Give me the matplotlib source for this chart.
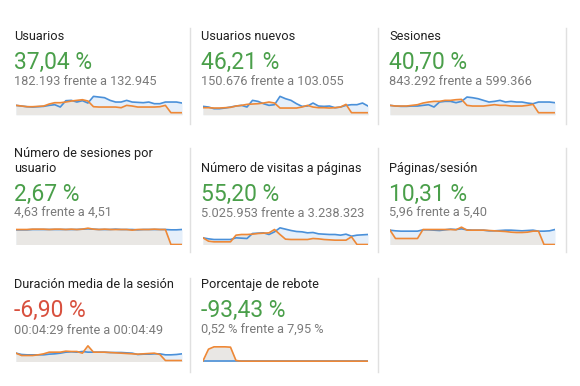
import matplotlib.pyplot as plt
import numpy as np

plt.rcParams['font.family'] = ['Roboto', 'DejaVu Sans']

# Card texts
titles = ['Usuarios', 'Usuarios nuevos', 'Sesiones',
          'Número de sesiones por\nusuario', 'Número de visitas a páginas', 'Páginas/sesión',
          'Duración media de la sesión', 'Porcentaje de rebote']
changes = ['37,04 %', '46,21 %', '40,70 %', '2,67 %', '55,20 %', '10,31 %', '-6,90 %', '-93,43 %']
good = [True, True, True, True, True, True, False, True]
compare = ['182.193 frente a 132.945', '150.676 frente a 103.055', '843.292 frente a 599.366',
           '4,63 frente a 4,51', '5.025.953 frente a 3.238.323', '5,96 frente a 5,40',
           '00:04:29 frente a 00:04:49', '0,52 % frente a 7,95 %']

# Sparkline heights (relative), current period / previous period
usuarios_cur = [28, 26, 24, 23, 24, 25, 28, 30, 23, 42, 43, 38, 42, 35, 55, 53, 51, 43, 38, 38,
                43, 38, 37, 36, 38, 33, 33, 38, 38, 38, 35]
usuarios_prev = [28, 26, 24, 24, 25, 26, 32, 36, 36, 38, 41, 43, 45, 41, 24, 23, 23, 23, 23, 21,
                 28, 26, 23, 23, 23, 23, 24, 28, 6, 6, 6]
nuevos_cur = [25, 23, 18, 18, 20, 23, 26, 28, 23, 43, 40, 33, 28, 30, 55, 48, 43, 33, 25, 26,
              35, 26, 25, 26, 21, 23, 28, 30, 30, 35, 26]
nuevos_prev = [21, 21, 20, 20, 21, 22, 26, 28, 31, 32, 33, 35, 38, 35, 20, 20, 20, 20, 23, 28,
               23, 21, 21, 20, 21, 23, 31, 6, 6, 6, 6]
sesiones_cur = [28, 26, 25, 25, 26, 26, 28, 30, 23, 38, 40, 40, 36, 40, 53, 51, 48, 43, 38, 40,
                43, 38, 40, 38, 38, 35, 33, 38, 38, 38, 36]
sesiones_prev = [28, 26, 26, 26, 28, 30, 35, 38, 40, 40, 43, 43, 45, 46, 28, 26, 26, 26, 28, 30,
                 28, 28, 26, 26, 26, 28, 31, 6, 6, 6, 6]
ses_usuario_cur = [44, 44, 44, 45, 45, 45, 45, 45, 45, 45, 45, 45, 46, 47, 46, 45, 45, 45, 46, 45,
                   45, 45, 44, 45, 45, 45, 45, 45, 44, 44, 45]
ses_usuario_prev = [45, 45, 45, 46, 46, 46, 45, 46, 46, 45, 46, 45, 46, 49, 46, 45, 46, 45, 45, 45,
                    45, 43, 45, 45, 45, 46, 45, 45, 0, 0, 0]
visitas_cur = [20, 17, 15, 15, 15, 15, 20, 19, 18, 33, 34, 35, 30, 38, 50, 46, 42, 39, 38, 35,
               36, 32, 31, 30, 30, 28, 31, 25, 28, 29, 30]
visitas_prev = [20, 10, 8, 8, 8, 8, 28, 30, 30, 31, 33, 34, 35, 45, 30, 16, 15, 15, 15, 15,
                18, 17, 15, 14, 13, 13, 13, 23, 0, 0, 0]
pag_sesion_cur = [43, 41, 40, 40, 40, 40, 44, 44, 43, 42, 44, 46, 45, 47, 44, 43, 43, 43, 41, 41,
                  42, 43, 43, 42, 41, 42, 43, 40, 40, 41, 45]
pag_sesion_prev = [43, 18, 18, 18, 18, 18, 45, 45, 45, 45, 45, 45, 44, 52, 43, 43, 43, 43, 42, 41,
                   40, 39, 37, 36, 36, 37, 40, 40, 0, 0, 0]
duracion_cur = [25, 21, 20, 20, 20, 20, 22, 23, 25, 28, 29, 28, 30, 28, 28, 28, 28, 27, 27, 27,
                26, 25, 21, 22, 22, 23, 23, 20, 20, 21, 23]
duracion_prev = [25, 18, 18, 18, 20, 23, 28, 28, 28, 31, 30, 30, 25, 47, 28, 28, 28, 27, 26, 25,
                 24, 23, 22, 23, 24, 25, 21, 3, 3, 3, 3]
rebote_cur = [1] * 31
rebote_prev = [2, 37, 44, 44, 44, 43, 3, 1, 1, 1, 1, 1, 1, 1, 1, 1, 1, 1, 1, 1,
               1, 1, 1, 1, 1, 1, 1, 1, 1, 1, 1]

series = [(usuarios_cur, usuarios_prev), (nuevos_cur, nuevos_prev), (sesiones_cur, sesiones_prev),
          (ses_usuario_cur, ses_usuario_prev), (visitas_cur, visitas_prev),
          (pag_sesion_cur, pag_sesion_prev), (duracion_cur, duracion_prev),
          (rebote_cur, rebote_prev)]

W, H = 580, 386
fig = plt.figure(figsize=(W / 100, H / 100), dpi=100)

text_x = [14, 201, 389]
spark_x = [(16, 182), (203, 368), (390, 555)]
# per row: title baseline, big number baseline, compare baseline, sparkline baseline
rows = [(40.5, 69, 85, 114.7), (172, 201, 217, 244.5), (288, 316.5, 333.5, 361.5)]
div_y = [(28, 124), (148, 252), (278, 372)]
divider_x = [[190, 378, 566], [190, 378, 566], [190, 378]]

blue, orange = '#4a90d9', '#ee8836'
blue_fill, gray_fill = '#e5effa', '#e9e7e4'


def fy(py):
    return 1 - py / H


for i in range(8):
    r, c = divmod(i, 3)
    tb, nb, cb, sb = rows[r]
    tx = text_x[c] / W
    fig.text(tx, fy(tb), titles[i], fontsize=9.2, color='#212121', va='baseline',
             linespacing=1.15)
    fig.text(tx, fy(nb), changes[i], fontsize=16.5, color='#4a9f4a' if good[i] else '#d8503e',
             va='baseline')
    fig.text(tx, fy(cb), compare[i], fontsize=9.2, color='#7a7a7a', va='baseline')

    x0, x1 = spark_x[c]
    ax = fig.add_axes([x0 / W, fy(sb), (x1 - x0) / W, 20 / H])
    cur, prev = series[i]
    x = np.arange(len(cur))
    ax.fill_between(x, 0, cur, color=blue_fill, lw=0)
    ax.fill_between(x, 0, prev, color=gray_fill, lw=0)
    ax.plot(x, cur, color=blue, lw=1.2)
    ax.plot(x, prev, color=orange, lw=1.2)
    ax.set_xlim(0, len(cur) - 1)
    ax.set_ylim(0, 60)
    ax.axis('off')

for r in range(3):
    for dx in divider_x[r]:
        fig.add_artist(plt.Line2D([dx / W, dx / W], [fy(div_y[r][0]), fy(div_y[r][1])],
                                  color='#e0e0e0', lw=1))

fig.savefig('out.png', dpi=100)
